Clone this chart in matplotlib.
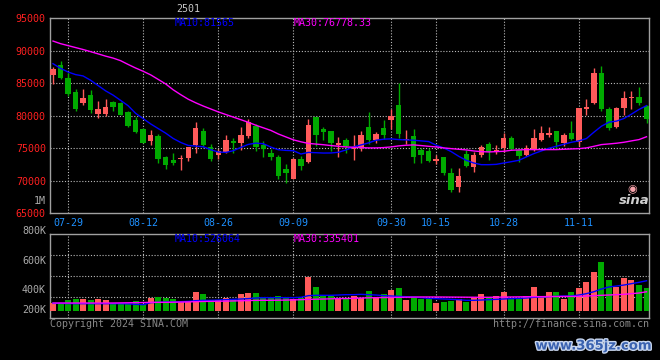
import matplotlib
matplotlib.use("Agg")
import matplotlib.pyplot as plt
import matplotlib.patheffects as pe
import numpy as np
import pandas as pd

# ---------------- data ----------------
holidays = ["2024-09-16", "2024-09-17", "2024-10-01", "2024-10-02", "2024-10-03",
            "2024-10-04", "2024-10-07"]
dates = pd.bdate_range("2024-07-25", "2024-11-22", freq="C", holidays=holidays)
date_labels = [d.strftime("%m-%d") for d in dates]

tick_dates = ["07-29", "08-12", "08-26", "09-09", "09-30", "10-15", "10-28", "11-11"]

open_ = [86330, 87810, 85770, 83680, 81990, 83220, 80210, 80210, 82150, 81990,
         80620, 79290, 78020, 76080, 76940, 73730, 73200, 73370, 73470, 75510,
         77600, 75260, 73980, 74490, 76120, 75870, 76840, 78420, 75510, 74240,
         73630, 71790, 70260, 73320, 72960, 79750, 77910, 77600, 75510, 76230,
         74900, 75260, 78220, 76230, 78060, 79280, 81600, 76220, 76860, 74800,
         74590, 73050, 73670, 71190, 68980, 74180, 72070, 73920, 75730, 74440,
         75060, 76650, 74700, 74030, 74950, 76340, 77010, 77590, 75800, 77430,
         76000, 81100, 81900, 86640, 81000, 78250, 81130, 82690, 82850, 81440]
high = [87450, 88420, 86530, 84080, 84080, 83930, 82300, 82600, 82350, 82100,
        80770, 79750, 78100, 77860, 77250, 73800, 74240, 73980, 75210, 78980,
        78060, 75610, 74950, 76990, 76630, 78220, 79440, 78670, 76120, 74850,
        73980, 72550, 73500, 73830, 79440, 79750, 78320, 77650, 76790, 76530,
        76970, 77600, 80660, 77450, 79290, 81100, 85000, 77860, 78040, 75060,
        75060, 74030, 73700, 71970, 71970, 74700, 74440, 75520, 76040, 75520,
        77430, 76860, 74750, 75520, 78040, 78370, 78300, 77600, 77300, 79130,
        81130, 82640, 87280, 87710, 81380, 81330, 83740, 83740, 84360, 81620]
low = [84900, 85700, 83120, 80670, 81690, 80410, 79600, 79950, 80770, 80060,
       78270, 77400, 75800, 75470, 72710, 71790, 72400, 71640, 73060, 74340,
       75260, 73060, 73420, 74290, 74240, 74800, 76580, 74590, 73680, 73170,
       70260, 69650, 70260, 71640, 72810, 75360, 76280, 74650, 73680, 74340,
       73180, 74540, 75720, 75770, 76380, 77900, 76600, 75610, 72740, 72740,
       72840, 72640, 70940, 68260, 68260, 72120, 71350, 73610, 73150, 74180,
       74440, 74800, 72890, 73770, 74540, 76090, 76760, 74950, 75400, 76340,
       75420, 80080, 81740, 80720, 77770, 78050, 80200, 81020, 81690, 78950]
close = [87190, 85870, 83420, 81080, 82760, 80820, 81080, 81280, 81280, 80160,
         78470, 77450, 75870, 77050, 73430, 72400, 72800, 73570, 75210, 78060,
         75510, 73320, 74540, 76230, 75770, 76990, 79030, 75260, 74850, 73630,
         70670, 71180, 73320, 72300, 78520, 77040, 77500, 75870, 75770, 75360,
         75050, 76990, 76230, 77140, 76990, 79900, 77200, 76480, 73610, 73920,
         73000, 73410, 71190, 68520, 70680, 72330, 73920, 75210, 74440, 74800,
         76650, 74950, 73770, 75060, 76650, 77430, 77430, 76000, 76980, 76440,
         81130, 81300, 86640, 80970, 78200, 81130, 82800, 82850, 81920, 79440]

ma10 = [88020, 87300, 86740, 86340, 86130, 85470, 84660, 83840, 83180, 82370,
        81550, 80380, 79570, 78750, 78040, 77330, 76510, 75900, 75440, 75340,
        75240, 74780, 74430, 74370, 74630, 75140, 75600, 75800, 75700, 75190,
        74780, 74680, 74630, 74120, 74370, 74320, 74270, 74280, 74390, 74750,
        75210, 75520, 75830, 76240, 76400, 76450, 76340, 76290, 76240, 76140,
        76040, 75470, 75060, 74490, 73770, 73150, 72740, 72480, 72480, 72530,
        72740, 72940, 73150, 73670, 74180, 74590, 75010, 75310, 75620, 75930,
        76140, 76500, 77480, 78400, 79020, 79180, 79590, 80260, 80980, 81565]
ma30 = [91500, 91100, 90800, 90500, 90200, 89870, 89530, 89180, 88880, 88480,
        87900, 87350, 86850, 86300, 85600, 84900, 84000, 83250, 82550, 82000,
        81500, 81050, 80600, 80200, 79800, 79400, 79000, 78550, 78150, 77750,
        77200, 76750, 76300, 76000, 75750, 75650, 75550, 75420, 75310, 75210,
        75160, 75110, 75060, 75060, 75110, 75210, 75370, 75470, 75520, 75420,
        75310, 75210, 75060, 74950, 74850, 74750, 74590, 74490, 74440, 74490,
        74540, 74700, 74750, 74800, 74800, 74800, 74800, 74800, 74850, 74900,
        74950, 75060, 75310, 75570, 75670, 75780, 75930, 76140, 76340, 76778]

volume = [145, 116, 186, 209, 209, 191, 209, 191, 139, 122,
          122, 174, 128, 220, 244, 220, 203, 168, 157, 325,
          290, 197, 197, 226, 209, 290, 307, 307, 244, 232,
          267, 244, 203, 226, 586, 412, 261, 255, 232, 203,
          255, 232, 342, 232, 290, 360, 394, 186, 238, 203,
          203, 133, 151, 168, 203, 151, 244, 290, 244, 255,
          325, 226, 203, 261, 412, 255, 325, 325, 203, 325,
          394, 499, 673, 847, 534, 418, 568, 534, 447, 394]
vol_ma10 = [133, 133, 130, 128, 128, 128, 128, 128, 128, 128,
            125, 116, 110, 145, 151, 157, 157, 162, 168, 180,
            186, 186, 191, 197, 203, 209, 215, 226, 232, 232,
            232, 232, 232, 238, 267, 273, 273, 273, 278, 284,
            284, 290, 284, 278, 267, 261, 255, 249, 244, 232,
            220, 215, 209, 203, 197, 186, 186, 191, 197, 203,
            209, 215, 220, 226, 238, 244, 249, 255, 261, 261,
            278, 302, 336, 383, 418, 435, 452, 476, 499, 526]
vol_ma30 = [139, 139, 139, 139, 139, 139, 139, 139, 139, 141,
            143, 145, 147, 151, 151, 151, 153, 155, 158, 163,
            166, 168, 170, 172, 175, 178, 182, 185, 186, 186,
            188, 190, 193, 197, 203, 205, 208, 212, 215, 217,
            220, 225, 229, 232, 234, 236, 238, 240, 242, 244,
            244, 244, 243, 242, 241, 240, 239, 238, 238, 240,
            242, 244, 246, 248, 249, 250, 251, 252, 253, 254,
            255, 261, 267, 273, 278, 284, 290, 302, 313, 335]

price_ticks = [65000, 70000, 75000, 80000, 85000, 90000, 95000]
vol_tick_labels = ["800K", "600K", "400K", "200K"]

# ---------------- style ----------------
BG = "black"
RED = "#FF5A5A"
GREEN = "#00AA00"
GRID = "#BBBBBB"
SPINE = "#A0A0A0"
MONO = "DejaVu Sans Mono"
FS = 7.2

W, H = 660, 360
fig = plt.figure(figsize=(W / 100, H / 100), dpi=100, facecolor=BG)

def fx(px):
    return px / W

def fy(py):
    return 1 - py / H

ax = fig.add_axes([fx(50.3), fy(213.3), fx(599), 195 / H], facecolor=BG)
axv = fig.add_axes([fx(50.3), fy(318.3), fx(599), 84 / H], facecolor=BG)

n = len(close)
x = np.arange(n)
o = np.array(open_, dtype=float)
c = np.array(close, dtype=float)
hi = np.array(high, dtype=float)
lo = np.array(low, dtype=float)
up = c >= o
colors = np.where(up, RED, GREEN)

tick_idx = [date_labels.index(d) for d in tick_dates]

grid_kw = dict(color=GRID, lw=0.8, linestyle=(0, (1, 1.6)), zorder=1)

# ---- price panel ----
for t in tick_idx:
    ax.axvline(t, **grid_kw)
for p in price_ticks[1:-1]:
    ax.axhline(p, **grid_kw)

ax.vlines(x, lo, hi, colors=colors, lw=1.0, zorder=3)
body_bottom = np.minimum(o, c)
body_h = np.maximum(np.abs(c - o), 90)
ax.bar(x, body_h, bottom=body_bottom, width=0.72, color=colors, lw=0, zorder=4)

ax.plot(x, ma10, color="#0000FF", lw=1.0, zorder=5)
ax.plot(x, ma30, color="#FF00FF", lw=1.0, zorder=5)

ax.set_xlim(-0.36, 79.37)
ax.set_ylim(65000, 95000)
ax.set_yticks(price_ticks)
ax.set_yticklabels([str(p) for p in price_ticks], color="#FF2020",
                   fontsize=FS, family=MONO)
ax.set_xticks(tick_idx)
ax.set_xticklabels(tick_dates, color="#1E90FF", fontsize=FS, family=MONO)
ax.tick_params(axis="both", length=0, pad=3.2)

for s in ax.spines.values():
    s.set_color(SPINE)
    s.set_linewidth(1.0)

# ---- volume panel ----
vol = np.array(volume) * 1000.0
for t in tick_idx:
    axv.axvline(t, **grid_kw)
for f in (0.25, 0.5, 0.75):
    axv.plot([0, 1], [f, f], transform=axv.transAxes, **grid_kw)

axv.bar(x, vol, width=0.8, color=colors, lw=0, zorder=3)
axv.plot(x, np.array(vol_ma10) * 1000, color="#0000FF", lw=1.0, zorder=5)
axv.plot(x, np.array(vol_ma30) * 1000, color="#FF00FF", lw=1.0, zorder=5)

k = 17400.0  # volume per pixel
axv.set_xlim(-0.36, 79.37)
axv.set_ylim(-(318.3 - 311) * k, (311 - 234.3) * k)
axv.set_xticks([])
axv.set_yticks([])
for s in axv.spines.values():
    s.set_color(SPINE)
    s.set_linewidth(1.0)

# volume scale labels (as drawn in the reference)
for lab, py in zip(vol_tick_labels, [230.7, 260.7, 290.0, 310.0]):
    fig.text(fx(46), fy(py), lab, color="#AAAAAA", fontsize=FS, family=MONO,
             ha="right", va="center")

# ---- texts ----
fig.text(fx(188), fy(9.5), "2501", color="#C8C8C8", fontsize=FS, family=MONO,
         ha="center", va="center")
fig.text(fx(175), fy(23.5), "MA10:81565", color="#0000FF", fontsize=FS,
         family=MONO, ha="left", va="center")
fig.text(fx(294), fy(23.5), "MA30:76778.33", color="#FF00FF", fontsize=FS,
         family=MONO, ha="left", va="center")
fig.text(fx(175), fy(238.5), "MA10:526064", color="#0000FF", fontsize=FS,
         family=MONO, ha="left", va="center")
fig.text(fx(294), fy(238.5), "MA30:335401", color="#FF00FF", fontsize=FS,
         family=MONO, ha="left", va="center")
fig.text(fx(46), fy(201), "1M", color="#AAAAAA", fontsize=FS, family=MONO,
         ha="right", va="center")
fig.text(fx(50), fy(324), "Copyright 2024 SINA.COM", color="#888888",
         fontsize=FS, family=MONO, ha="left", va="center")
fig.text(fx(649), fy(324), "http://finance.sina.com.cn", color="#888888",
         fontsize=FS, family=MONO, ha="right", va="center")

# sina logo watermark
fig.text(fx(632), fy(189), "\u25c9", color="#F4A0A8", fontsize=8,
         ha="center", va="center")
fig.text(fx(634), fy(201), "sina", color="#D0D0D0", fontsize=9.5,
         fontweight="bold", fontstyle="italic", ha="center", va="center")

# site watermark
fig.text(fx(594), fy(346), "www.365jz.com", color="#3A62B0", fontsize=9.5,
         fontweight="bold", family="DejaVu Sans", ha="center", va="center",
         path_effects=[pe.withStroke(linewidth=2.0, foreground="#C8D6EE")])

fig.savefig("out.png", dpi=100, facecolor=BG)
